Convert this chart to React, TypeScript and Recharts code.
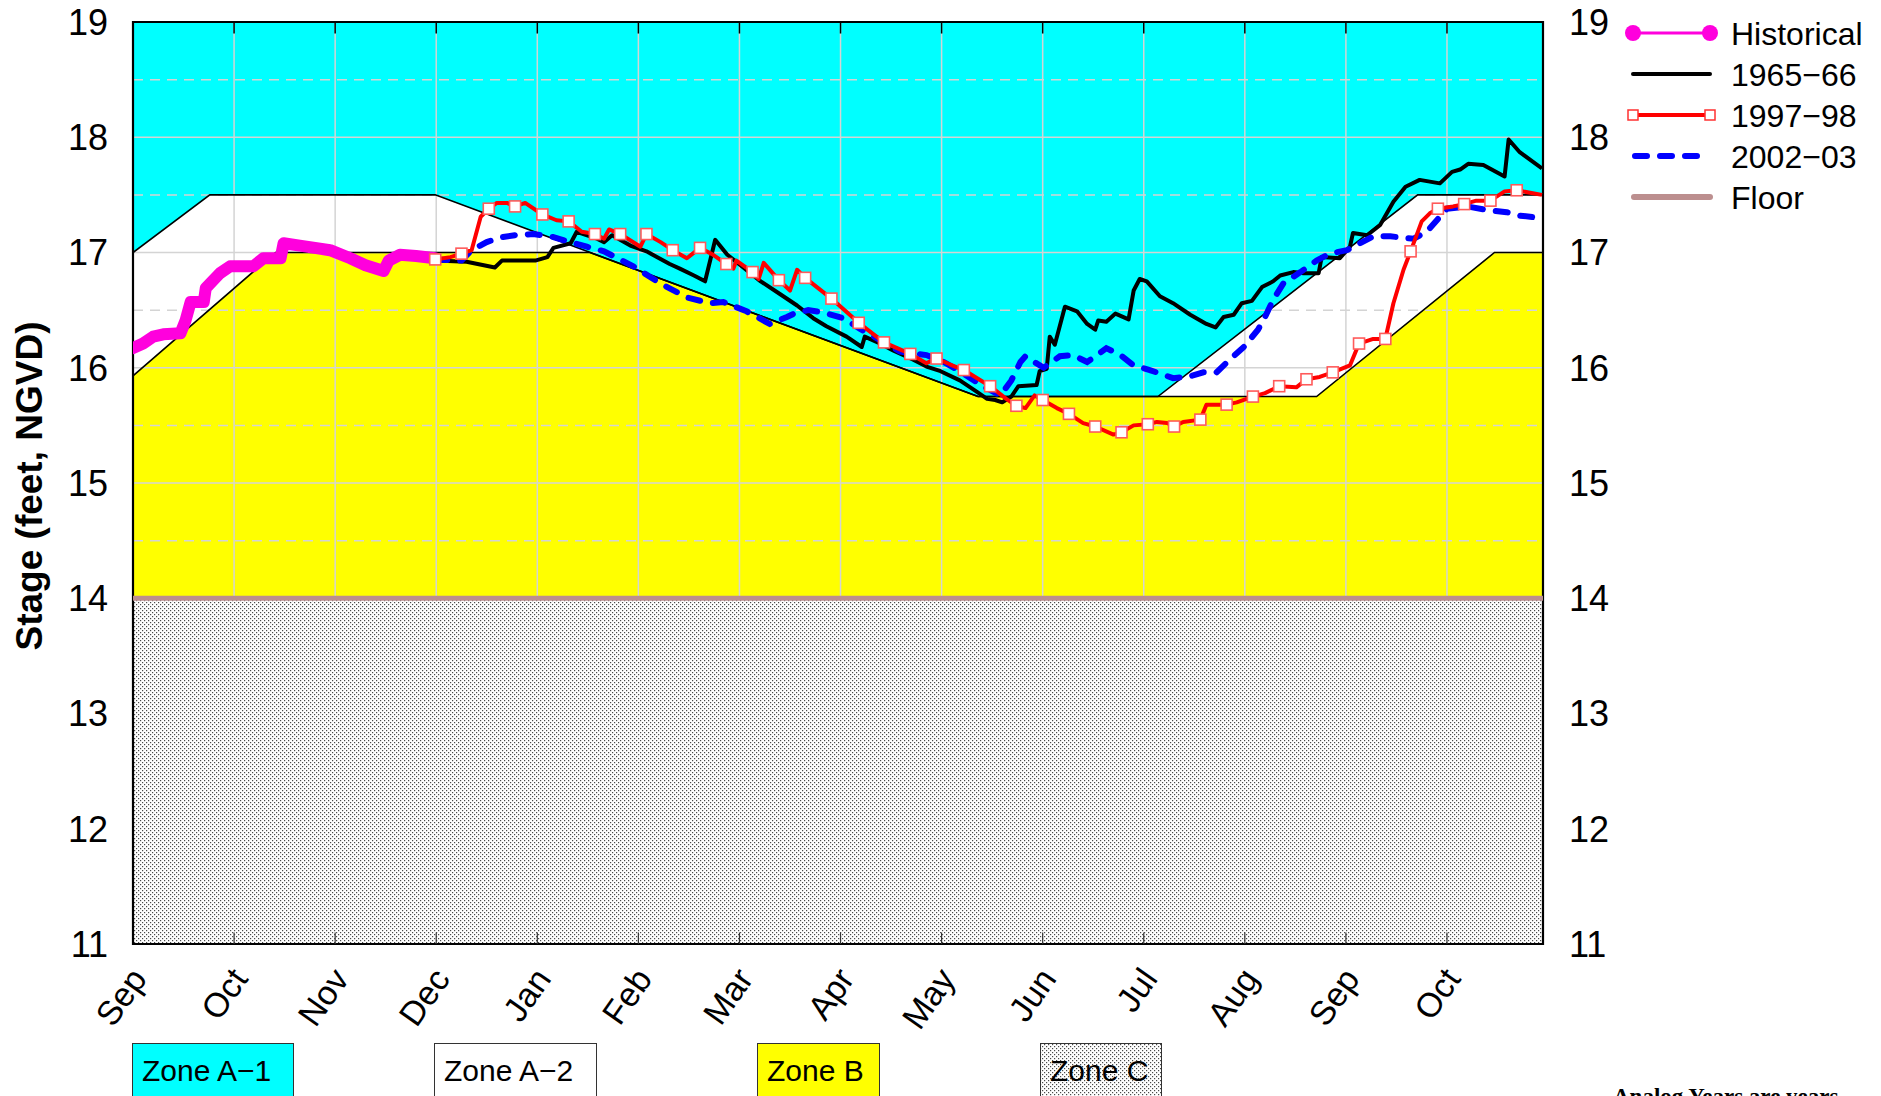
import React from 'react';
import { ComposedChart, Line, Area, XAxis, YAxis, ReferenceLine, ReferenceArea } from 'recharts';

const W = 1881;
const H = 1096;
const MARGIN = { top: 22, right: 278, bottom: 92, left: 73 };
const FONT = '"Liberation Sans", Arial, sans-serif';

// x is months since Sep 1 of the first water year
const X_MAX = 13.95;
const monthLabels = ['Sep', 'Oct', 'Nov', 'Dec', 'Jan', 'Feb', 'Mar', 'Apr', 'May', 'Jun', 'Jul', 'Aug', 'Sep', 'Oct'];
const monthTicks = monthLabels.map((_, i) => i);
const innerMonthTicks = monthTicks.slice(1);
const stageTicks = [11, 12, 13, 14, 15, 16, 17, 18, 19];
const wholeGrid = [15, 16, 17, 18];
const halfGrid = [14.5, 15.5, 16.5, 17.5, 18.5];

// regulation schedule lines [month, stage]
const zoneA1Floor = [[0, 17.0], [0.76, 17.5], [2.99, 17.5], [8.36, 15.75], [10.14, 15.75], [12.71, 17.5], [X_MAX, 17.5]];
const zoneBTop = [[0, 15.93], [1.41, 17.0], [4.52, 17.0], [8.36, 15.75], [11.71, 15.75], [13.47, 17.0], [X_MAX, 17.0]];
const floorLine = [[0, 14], [X_MAX, 14]];
const topLine = [[0, 19], [X_MAX, 19]];

const historical = [
  [0, 16.17], [0.1, 16.21], [0.2, 16.27], [0.3, 16.29], [0.47, 16.3], [0.52, 16.41], [0.57, 16.57],
  [0.7, 16.57], [0.72, 16.69], [0.86, 16.82], [0.96, 16.88], [1.19, 16.88], [1.29, 16.95], [1.46, 16.95],
  [1.49, 17.08], [1.65, 17.06], [1.95, 17.02], [2.15, 16.95], [2.3, 16.89], [2.48, 16.84], [2.53, 16.93],
  [2.64, 16.98], [2.8, 16.97], [2.99, 16.95],
];

const y1965 = [
  [2.99, 16.93], [3.3, 16.92], [3.58, 16.87], [3.65, 16.93], [3.98, 16.93], [4.1, 16.96], [4.16, 17.04],
  [4.33, 17.08], [4.39, 17.18], [4.59, 17.12], [4.66, 17.09], [4.74, 17.15], [4.92, 17.06], [5.08, 17.01],
  [5.31, 16.9], [5.41, 16.86], [5.55, 16.8], [5.66, 16.75], [5.76, 17.11], [5.88, 16.98], [6.01, 16.89],
  [6.21, 16.75], [6.4, 16.64], [6.57, 16.54], [6.73, 16.43], [6.86, 16.36], [7.06, 16.27], [7.21, 16.18],
  [7.24, 16.27], [7.39, 16.21], [7.52, 16.15], [7.72, 16.07], [7.85, 16.01], [7.99, 15.97], [8.18, 15.89],
  [8.35, 15.79], [8.45, 15.73], [8.53, 15.72], [8.6, 15.7], [8.69, 15.75], [8.76, 15.84], [8.94, 15.85],
  [8.97, 15.97], [9.04, 15.99], [9.07, 16.27], [9.12, 16.2], [9.22, 16.53], [9.34, 16.49], [9.44, 16.38],
  [9.52, 16.33], [9.55, 16.41], [9.63, 16.4], [9.72, 16.47], [9.85, 16.42], [9.9, 16.67], [9.96, 16.77],
  [10.03, 16.75], [10.16, 16.62], [10.29, 16.56], [10.46, 16.46], [10.62, 16.38], [10.71, 16.35],
  [10.79, 16.44], [10.89, 16.46], [10.97, 16.56], [11.07, 16.58], [11.17, 16.7], [11.28, 16.75],
  [11.35, 16.8], [11.48, 16.83], [11.58, 16.82], [11.73, 16.82], [11.76, 16.96], [11.94, 16.95],
  [12.04, 17.05], [12.07, 17.17], [12.21, 17.15], [12.34, 17.24], [12.47, 17.44], [12.59, 17.57],
  [12.73, 17.63], [12.93, 17.6], [13.05, 17.7], [13.13, 17.72], [13.21, 17.77], [13.36, 17.76],
  [13.57, 17.66], [13.61, 17.98], [13.72, 17.87], [13.94, 17.73],
];

// third item = 1 where the plot draws a square marker
const y1997 = [
  [2.99, 16.94, 1], [3.14, 16.96], [3.25, 16.99, 1], [3.35, 17.02], [3.44, 17.31], [3.52, 17.38, 1],
  [3.6, 17.43], [3.7, 17.43], [3.78, 17.4, 1], [3.88, 17.43], [4.05, 17.33, 1], [4.19, 17.28],
  [4.31, 17.27, 1], [4.44, 17.18], [4.57, 17.16, 1], [4.66, 17.12], [4.71, 17.2], [4.82, 17.16, 1],
  [5.02, 17.05], [5.08, 17.16, 1], [5.22, 17.09], [5.34, 17.02, 1], [5.48, 16.95], [5.61, 17.04, 1],
  [5.74, 16.98], [5.87, 16.9, 1], [5.94, 16.86], [5.97, 16.93], [6.13, 16.83, 1], [6.19, 16.77],
  [6.24, 16.91], [6.39, 16.76, 1], [6.5, 16.67], [6.57, 16.85], [6.65, 16.78, 1], [6.91, 16.6, 1],
  [7.18, 16.39, 1], [7.43, 16.22, 1], [7.69, 16.12, 1], [7.85, 16.04], [7.95, 16.08, 1], [8.08, 16.03],
  [8.22, 15.98, 1], [8.48, 15.84, 1], [8.64, 15.73], [8.74, 15.67, 1], [8.83, 15.65], [8.92, 15.76],
  [9.0, 15.72, 1], [9.14, 15.65], [9.26, 15.6, 1], [9.4, 15.52], [9.52, 15.49, 1], [9.7, 15.42],
  [9.78, 15.44, 1], [9.9, 15.5], [10.04, 15.51, 1], [10.13, 15.53], [10.23, 15.52], [10.3, 15.49, 1],
  [10.39, 15.53], [10.56, 15.55, 1], [10.62, 15.68], [10.82, 15.68, 1], [10.92, 15.7], [11.08, 15.75, 1],
  [11.2, 15.78], [11.34, 15.84, 1], [11.51, 15.83], [11.61, 15.9, 1], [11.74, 15.92], [11.87, 15.96, 1],
  [12.04, 16.02], [12.13, 16.21, 1], [12.27, 16.25], [12.39, 16.25, 1], [12.47, 16.56], [12.57, 16.85],
  [12.64, 17.01, 1], [12.75, 17.27], [12.83, 17.34], [12.91, 17.38, 1], [13.06, 17.4], [13.17, 17.42, 1],
  [13.29, 17.45], [13.43, 17.45, 1], [13.57, 17.53], [13.69, 17.54, 1], [13.94, 17.5],
];

const y2002 = [
  [2.99, 16.94], [3.25, 16.93], [3.35, 17.02], [3.5, 17.09], [3.63, 17.13], [3.78, 17.15], [3.96, 17.16],
  [4.13, 17.14], [4.29, 17.1], [4.49, 17.05], [4.66, 17.01], [4.95, 16.88], [5.22, 16.73], [5.48, 16.61],
  [5.71, 16.56], [5.84, 16.57], [6.07, 16.49], [6.3, 16.38], [6.47, 16.44], [6.54, 16.47], [6.68, 16.5],
  [6.83, 16.48], [7.03, 16.43], [7.19, 16.34], [7.39, 16.24], [7.59, 16.14], [7.85, 16.11], [8.02, 16.05],
  [8.18, 15.97], [8.41, 15.84], [8.58, 15.76], [8.64, 15.83], [8.69, 15.89], [8.78, 16.05], [8.83, 16.1],
  [8.88, 16.07], [9.01, 16.0], [9.17, 16.1], [9.3, 16.11], [9.44, 16.05], [9.54, 16.11], [9.63, 16.17],
  [9.77, 16.11], [9.9, 16.02], [10.06, 15.98], [10.29, 15.91], [10.43, 15.92], [10.59, 15.96],
  [10.72, 15.96], [10.85, 16.07], [10.99, 16.18], [11.13, 16.33], [11.2, 16.44], [11.28, 16.59],
  [11.38, 16.73], [11.55, 16.83], [11.71, 16.93], [11.84, 16.99], [12.01, 17.02], [12.27, 17.14],
  [12.44, 17.14], [12.67, 17.12], [12.8, 17.18], [12.9, 17.28], [13.0, 17.38], [13.2, 17.4],
  [13.39, 17.37], [13.59, 17.35], [13.72, 17.32], [13.92, 17.3],
];

const legendLabels = ['Historical', '1965\u221266', '1997\u221298', '2002\u221203', 'Floor'];
const zoneLabels = ['Zone A\u22121', 'Zone A\u22122', 'Zone B', 'Zone C'];

const pts = (arr: number[][]) => arr.map(([m, v, mk]) => ({ m, v, mk: mk === 1 }));

const COLORS = {
  a1: '#00ffff',
  a2: '#ffffff',
  b: '#ffff00',
  hist: '#ff00dd',
  y1965: '#000000',
  y1997: '#ff0000',
  y2002: '#0000ff',
  floor: '#bc8f8f',
  grid: '#d4d4d4',
};

function MonthTick(props: any) {
  const { x, y, payload } = props;
  const ax = x + 15;
  const ay = y + 27;
  return (
    <text x={ax} y={ay} transform={`rotate(-55 ${ax} ${ay})`} textAnchor="end"
      fontSize={34} fontFamily={FONT} fill="#000">
      {monthLabels[payload.value]}
    </text>
  );
}

function stageTick(anchor: 'start' | 'end') {
  return (props: any) => (
    <text x={props.x} y={props.y} dy="0.36em" textAnchor={anchor} fontSize={36} fontFamily={FONT} fill="#000">
      {props.payload.value}
    </text>
  );
}

const axes = (show: boolean) => [
  <XAxis key="x" type="number" dataKey="m" domain={[0, X_MAX]} ticks={monthTicks} interval={0}
    allowDataOverflow height={60} axisLine={false} tickLine={false}
    tick={show ? (p: any) => <MonthTick {...p} /> : false} />,
  <YAxis key="yl" type="number" domain={[11, 19]} ticks={stageTicks} interval={0} allowDataOverflow
    width={60} axisLine={false} tickLine={false} tickSize={6} tickMargin={19}
    tick={show ? stageTick('end') : false} />,
  <YAxis key="yr" yAxisId="r" orientation="right" type="number" domain={[11, 19]} ticks={stageTicks}
    interval={0} allowDataOverflow width={60} axisLine={false} tickLine={false} tickSize={6} tickMargin={20}
    tick={show ? stageTick('start') : false} />,
];

const layer: React.CSSProperties = { position: 'absolute', left: 0, top: 0 };

function RedSquare(p: any) {
  if (!p.payload || !p.payload.mk) return <g key={`n${p.index}`} />;
  return (
    <rect key={`s${p.index}`} x={p.cx - 5.5} y={p.cy - 5.5} width={11} height={11}
      fill="#ffffff" stroke="#ff5a5a" strokeWidth={1.6} />
  );
}

export default function App() {
  const lineCommon = { dataKey: 'v', isAnimationActive: false, dot: false, activeDot: false, type: 'linear' as const };
  return (
    <div style={{ position: 'absolute', left: 0, top: 0, width: W, height: H, overflow: 'hidden', background: '#fff', fontFamily: FONT }}>
      <svg width={0} height={0} style={{ position: 'absolute' }}>
        <defs>
          <pattern id="stipple" width="4" height="4" patternUnits="userSpaceOnUse">
            <rect width="4" height="4" fill="#ffffff" />
            <rect x="0" y="0" width="1.2" height="1.2" fill="#4a4a4a" />
            <rect x="2" y="2" width="1.2" height="1.2" fill="#4a4a4a" />
          </pattern>
        </defs>
      </svg>

      {/* zone fills */}
      <div style={layer}>
        <ComposedChart width={W} height={H} margin={MARGIN}>
          {axes(false)}
          <Area data={pts(topLine)} dataKey="v" baseValue={14} type="linear" stroke="none" fill={COLORS.a1} fillOpacity={1} isAnimationActive={false} dot={false} activeDot={false} />
          <Area data={pts(zoneA1Floor)} dataKey="v" baseValue={14} type="linear" stroke="none" fill={COLORS.a2} fillOpacity={1} isAnimationActive={false} dot={false} activeDot={false} />
          <Area data={pts(zoneBTop)} dataKey="v" baseValue={14} type="linear" stroke="none" fill={COLORS.b} fillOpacity={1} isAnimationActive={false} dot={false} activeDot={false} />
        </ComposedChart>
      </div>

      {/* grid */}
      <div style={layer}>
        <ComposedChart width={W} height={H} margin={MARGIN}>
          {axes(false)}
          {innerMonthTicks.map((m) => (
            <ReferenceLine key={`gx${m}`} x={m} stroke={COLORS.grid} strokeWidth={1.5} />
          ))}
          {wholeGrid.map((v) => (
            <ReferenceLine key={`gy${v}`} y={v} stroke={COLORS.grid} strokeWidth={1.5} />
          ))}
          {halfGrid.map((v) => (
            <ReferenceLine key={`gh${v}`} y={v} stroke={COLORS.grid} strokeWidth={1.5} strokeDasharray="10 7" />
          ))}
        </ComposedChart>
      </div>

      {/* zone C, schedule lines, series, axes */}
      <div style={layer}>
        <ComposedChart width={W} height={H} margin={MARGIN}>
          {axes(true)}
          <Area data={pts(floorLine)} dataKey="v" baseValue={11} type="linear" stroke="none" fill="url(#stipple)" fillOpacity={1} isAnimationActive={false} dot={false} activeDot={false} />
          <Line {...lineCommon} data={pts(floorLine)} stroke={COLORS.floor} strokeWidth={5} />
          <Line {...lineCommon} data={pts(zoneA1Floor)} stroke="#000" strokeWidth={1.6} />
          <Line {...lineCommon} data={pts(zoneBTop)} stroke="#000" strokeWidth={1.6} />
          {innerMonthTicks.map((m) => (
            <ReferenceLine key={`tt${m}`} segment={[{ x: m, y: 19 }, { x: m, y: 18.9 }]} stroke="#000" strokeWidth={1.5} />
          ))}
          {innerMonthTicks.map((m) => (
            <ReferenceLine key={`tb${m}`} segment={[{ x: m, y: 11 }, { x: m, y: 11.1 }]} stroke="#333" strokeWidth={1.2} />
          ))}
          <ReferenceArea x1={0} x2={X_MAX} y1={11} y2={19} fill="none" stroke="#000" strokeWidth={2.2} ifOverflow="visible" />
          <Line {...lineCommon} data={pts(historical)} stroke={COLORS.hist} strokeWidth={12} strokeLinecap="round" strokeLinejoin="round" />
          <Line {...lineCommon} data={pts(y1965)} stroke={COLORS.y1965} strokeWidth={4} strokeLinejoin="round" />
          <Line {...lineCommon} data={pts(y2002)} stroke={COLORS.y2002} strokeWidth={6} strokeDasharray="12 13" strokeLinecap="round" />
          <Line {...lineCommon} data={pts(y1997)} stroke={COLORS.y1997} strokeWidth={4} strokeLinejoin="round" dot={RedSquare} />
        </ComposedChart>
      </div>

      {/* title, legend, zone key */}
      <svg width={W} height={H} style={{ ...layer, pointerEvents: 'none' }}>
        <text x={29} y={486} transform="rotate(-90 29 486)" textAnchor="middle" dy="0.36em"
          fontSize={37} fontWeight="bold" fontFamily={FONT} fill="#000">Stage (feet, NGVD)</text>

        {legendLabels.map((label, i) => {
          const cy = 33 + i * 41;
          let sym: React.ReactNode = null;
          if (i === 0) {
            sym = (
              <g>
                <line x1={1633} x2={1710} y1={cy} y2={cy} stroke={COLORS.hist} strokeWidth={3} />
                <circle cx={1633} cy={cy} r={8} fill={COLORS.hist} />
                <circle cx={1710} cy={cy} r={8} fill={COLORS.hist} />
              </g>
            );
          } else if (i === 1) {
            sym = <line x1={1633} x2={1710} y1={cy} y2={cy} stroke="#000" strokeWidth={4} strokeLinecap="round" />;
          } else if (i === 2) {
            sym = (
              <g>
                <line x1={1633} x2={1710} y1={cy} y2={cy} stroke={COLORS.y1997} strokeWidth={4} />
                <rect x={1628} y={cy - 5} width={10} height={10} fill="#fff" stroke="#ff3030" strokeWidth={1.5} />
                <rect x={1705} y={cy - 5} width={10} height={10} fill="#fff" stroke="#ff3030" strokeWidth={1.5} />
              </g>
            );
          } else if (i === 3) {
            sym = <line x1={1635} x2={1710} y1={cy} y2={cy} stroke={COLORS.y2002} strokeWidth={6} strokeDasharray="12 13" strokeLinecap="round" />;
          } else {
            sym = <line x1={1634} x2={1710} y1={cy} y2={cy} stroke={COLORS.floor} strokeWidth={6} strokeLinecap="round" />;
          }
          return (
            <g key={label}>
              {sym}
              <text x={1731} y={cy} dy="0.36em" fontSize={32} fontFamily={FONT} fill="#000">{label}</text>
            </g>
          );
        })}

        {zoneLabels.map((label, i) => {
          const boxX = [132, 434, 757, 1040][i];
          const boxW = [161, 162, 122, 121][i];
          const fill = [COLORS.a1, COLORS.a2, COLORS.b, 'url(#stipple)'][i];
          return (
            <g key={label}>
              <rect x={boxX + 0.5} y={1043.5} width={boxW} height={80} fill={fill} stroke="#333" strokeWidth={1} />
              <text x={boxX + 10} y={1081} fontSize={30} fontFamily={FONT} fill="#000">{label}</text>
            </g>
          );
        })}

        <text x={1613} y={1104} fontSize={23} fontWeight="bold" fontFamily='"Liberation Serif", "Times New Roman", serif' fill="#000">
          Analog Years are years
        </text>
      </svg>
    </div>
  );
}
